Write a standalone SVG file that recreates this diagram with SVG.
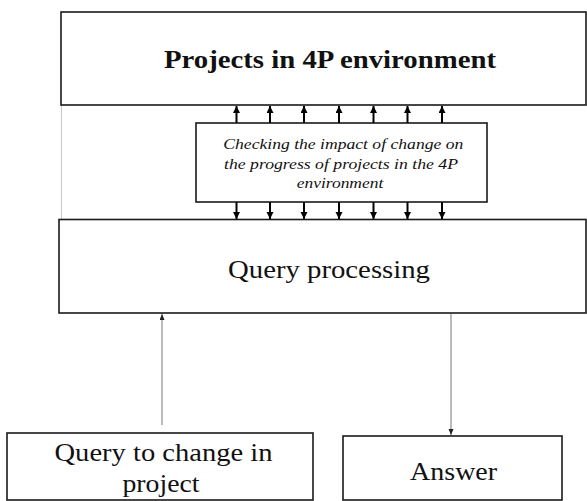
<svg xmlns="http://www.w3.org/2000/svg" width="587" height="501" viewBox="0 0 587 501">
<style>
.box{fill:#fff;stroke:#1a1a1a;stroke-width:1.6}
.t{font-family:"Liberation Serif","Times New Roman",serif;fill:#111}
.big{font-size:25px}
.bold{font-weight:bold}
.it{font-size:15px;font-style:italic}
.thick{stroke:#000;stroke-width:2;fill:none}
.thin{stroke:#777;stroke-width:1;fill:none}
</style>
<defs>
<marker id="hb" markerUnits="userSpaceOnUse" markerWidth="8" markerHeight="8" refX="7" refY="3.5" orient="auto">
<path d="M0,0 L7,3.5 L0,7 z" fill="#000"/>
</marker>
<marker id="ht" markerUnits="userSpaceOnUse" markerWidth="7" markerHeight="6" refX="6" refY="2.5" orient="auto">
<path d="M0,0 L6,2.5 L0,5 z" fill="#222"/>
</marker>
</defs>
<rect width="587" height="501" fill="#fff"/>
<line x1="61.5" y1="105" x2="61.5" y2="220" stroke="#c8c8c8" stroke-width="1"/>
<g id="projects">
<rect class="box" x="61" y="12" width="525" height="93"/>
<text class="t big bold" x="330" y="68" text-anchor="middle" textLength="332" lengthAdjust="spacingAndGlyphs">Projects in 4P environment</text>
</g>
<g id="query-processing">
<rect class="box" x="59" y="219.5" width="527" height="93.5"/>
<text class="t big" x="329" y="278" text-anchor="middle" textLength="202" lengthAdjust="spacingAndGlyphs">Query processing</text>
</g>
<g id="checking">
<rect class="box" x="196" y="123" width="291" height="79"/>
<text class="t it" x="343.3" y="149" text-anchor="middle" textLength="240" lengthAdjust="spacingAndGlyphs">Checking the impact of change on</text>
<text class="t it" x="341" y="168.5" text-anchor="middle" textLength="234" lengthAdjust="spacingAndGlyphs">the progress of projects in the 4P</text>
<text class="t it" x="340" y="187.5" text-anchor="middle" textLength="86.6" lengthAdjust="spacingAndGlyphs">environment</text>
</g>
<g id="query-change">
<rect class="box" x="7" y="433" width="306" height="67"/>
<text class="t big" x="163.5" y="461" text-anchor="middle" textLength="218" lengthAdjust="spacingAndGlyphs">Query to change in</text>
<text class="t big" x="161" y="492" text-anchor="middle" textLength="77" lengthAdjust="spacingAndGlyphs">project</text>
</g>
<g id="answer">
<rect class="box" x="343" y="436" width="219" height="64"/>
<text class="t big" x="453.6" y="480" text-anchor="middle" textLength="87" lengthAdjust="spacingAndGlyphs">Answer</text>
</g>
<g id="connectors">
<line class="thick" x1="236.5" y1="123" x2="236.5" y2="106" marker-end="url(#hb)"/>
<line class="thick" x1="270" y1="123" x2="270" y2="106" marker-end="url(#hb)"/>
<line class="thick" x1="304" y1="123" x2="304" y2="106" marker-end="url(#hb)"/>
<line class="thick" x1="339" y1="123" x2="339" y2="106" marker-end="url(#hb)"/>
<line class="thick" x1="373.5" y1="123" x2="373.5" y2="106" marker-end="url(#hb)"/>
<line class="thick" x1="407.5" y1="123" x2="407.5" y2="106" marker-end="url(#hb)"/>
<line class="thick" x1="442" y1="123" x2="442" y2="106" marker-end="url(#hb)"/>
<line class="thick" x1="236.5" y1="202" x2="236.5" y2="219" marker-end="url(#hb)"/>
<line class="thick" x1="270" y1="202" x2="270" y2="219" marker-end="url(#hb)"/>
<line class="thick" x1="304" y1="202" x2="304" y2="219" marker-end="url(#hb)"/>
<line class="thick" x1="339" y1="202" x2="339" y2="219" marker-end="url(#hb)"/>
<line class="thick" x1="373.5" y1="202" x2="373.5" y2="219" marker-end="url(#hb)"/>
<line class="thick" x1="407.5" y1="202" x2="407.5" y2="219" marker-end="url(#hb)"/>
<line class="thick" x1="442" y1="202" x2="442" y2="219" marker-end="url(#hb)"/>
<line class="thin" x1="162" y1="425" x2="162" y2="314" marker-end="url(#ht)"/>
<line class="thin" x1="451" y1="314" x2="451" y2="435" marker-end="url(#ht)"/>
</g>
</svg>
